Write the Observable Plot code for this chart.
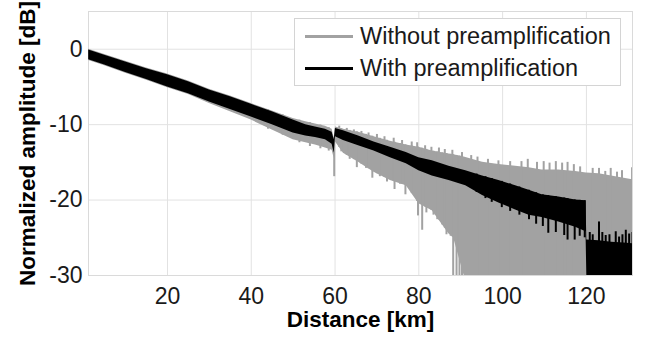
<!DOCTYPE html>
<html><head><meta charset="utf-8">
<script src="https://cdn.jsdelivr.net/npm/d3@7"></script>
<script src="https://cdn.jsdelivr.net/npm/@observablehq/plot@0.6"></script>
<style>
body{margin:0;background:#fff;font-family:"Liberation Sans",Arial,sans-serif;}
#wrap{position:relative;width:646px;height:337px;}
#legend{position:absolute;left:294px;top:18px;width:327px;height:68px;box-sizing:border-box;border:1px solid #d4d4d4;background:#fff;}
.row{position:absolute;left:0;height:30px;display:flex;align-items:center;}
.sw{width:48px;height:3px;margin-left:10px;margin-right:7px;}
.lbl{font-size:23.5px;color:#1a1a1a;white-space:nowrap;}
</style></head>
<body><div id="wrap"></div>
<script>
// Axis ticks
const xTicks = [20, 40, 60, 80, 100, 120];
const yTicks = [0, -10, -20, -30];
const seriesNames = ["Without preamplification", "With preamplification"];

// Without preamplification: envelope of the noisy trace (km, upper dB, lower dB)
const gKm = [1.2, 5, 10, 15, 20, 25, 30, 35, 40, 45, 50, 53, 55.3, 57.7, 59.3, 59.8, 60.1, 62, 65.6, 69.3, 73.2, 77, 80, 83.2, 87.2, 88.3, 90.8, 95.2, 99.1, 103.1, 106.3, 109.4, 113.4, 117.4, 120, 123, 126, 129, 131];
const gHi = [0.0, -0.7, -1.6, -2.5, -3.3, -4.2, -5.3, -6.2, -7.2, -8.2, -9.2, -9.6, -9.9, -10.2, -10.6, -11.8, -10.3, -10.6, -11.0, -11.6, -12.2, -12.7, -13.0, -13.5, -13.9, -14.0, -14.3, -15.0, -15.3, -15.5, -15.7, -16.0, -16.0, -16.2, -16.4, -16.5, -16.8, -17.1, -17.3];
const gLo = [-1.5, -2.2, -3.2, -4.1, -5.1, -6.0, -7.2, -8.3, -9.4, -10.7, -12.0, -12.4, -12.7, -13.1, -13.4, -14.5, -12.3, -13.8, -15.0, -16.3, -17.4, -18.1, -20.5, -21.4, -24.5, -25.0, -30, -30, -30, -30, -30, -30, -30, -30, -30, -30, -30, -30, -30];

// With preamplification: envelope of the trace
const bKm = [1.2, 5, 10, 15, 20, 25, 30, 35, 40, 45, 50, 53, 55.3, 57.7, 59.3, 59.8, 60.1, 62, 65.6, 69.3, 73.2, 77, 80, 83.2, 87.2, 91.2, 95.2, 99.1, 103.1, 106.3, 109.4, 113.4, 117.4, 119.9, 120.1, 123, 126, 129, 131];
const bHi = [-0.1, -0.8, -1.7, -2.6, -3.4, -4.3, -5.4, -6.3, -7.3, -8.3, -9.4, -10.0, -10.3, -10.6, -11.0, -12.0, -10.5, -10.8, -11.5, -12.3, -13.0, -13.7, -14.4, -14.8, -15.5, -16.1, -16.8, -17.4, -18.1, -18.7, -19.3, -19.6, -20.0, -20.1, -25.3, -25.4, -25.6, -25.7, -25.8];
const bLo = [-1.4, -2.1, -3.1, -4.0, -5.0, -5.9, -7.0, -8.0, -9.0, -10.0, -11.1, -11.5, -11.7, -12.0, -12.6, -13.8, -11.6, -12.1, -12.8, -13.5, -14.4, -15.2, -16.1, -16.8, -17.4, -18.1, -19.4, -20.4, -21.3, -22.0, -22.3, -22.9, -23.6, -24.2, -30, -30, -30, -30, -30];

// Noise spikes (km, tip dB)
const gUpKm = [61, 62.8, 64.5, 66.3, 68, 70, 71.8, 74, 76, 78.3, 79.6, 81.5, 83, 84.8, 86.2, 88, 90.3, 92.5, 94, 96.5, 99, 101.8, 104.5, 106, 108.2, 109.8, 111.2, 112.7, 114.2, 115.5, 117, 118.5, 121.5, 123, 124.5, 125.8, 127.3, 128.5, 130.9];
const gUpDb = [-10.2, -10.5, -10.7, -10.9, -11.1, -11.3, -11.6, -11.8, -12.1, -12.3, -12.4, -12.8, -13.0, -13.1, -13.3, -13.4, -13.7, -14.1, -14.3, -14.6, -14.8, -14.9, -14.9, -14.6, -15.0, -14.9, -15.1, -14.9, -15.1, -15.0, -15.3, -15.6, -15.8, -15.8, -16.2, -15.8, -16.3, -16.1, -15.7];
const gDnKm = [44, 47.5, 51.5, 54, 56.5, 58.5, 59.8, 61.5, 63.5, 65.2, 67.4, 68.9, 70.7, 72.4, 74.2, 75.5, 76.8, 78.3, 79.8, 80.8, 81.8, 83.5, 84.4, 85.6, 86.6, 87.6, 88.2, 89.0, 89.7, 90.3];
const gDnDb = [-10.6, -11.4, -12.4, -12.9, -13.2, -13.5, -16.9, -13.6, -14.6, -15.7, -15.8, -17.1, -16.9, -17.6, -18.6, -17.9, -19.3, -18.8, -22.1, -24.0, -21.7, -22.0, -22.6, -23.3, -24.6, -24.8, -30, -30, -30, -30];
const bDnKm = [93.8, 95.9, 97.4, 99.8, 101.8, 104, 106.3, 108, 109.6, 110.9, 112.7, 114.7, 115.5, 117.2, 118.4, 119.6];
const bDnDb = [-19.0, -19.8, -20.3, -21.0, -21.5, -22.0, -22.6, -23.2, -23.5, -24.4, -24.3, -24.7, -25.3, -25.3, -24.8, -25.0];
const bUpKm = [120.8, 121.5, 123, 123.8, 124.6, 125.5, 127, 127.8, 128.6, 129.4, 130.2, 131];
const bUpDb = [-24.3, -24.6, -22.9, -24.3, -24.7, -24.6, -24.2, -24.9, -24.6, -24.0, -24.5, -24.3];

const GRAY = "#a2a2a2", BLACK = "#000";

const gray = gKm.map((k, i) => ({km: k, hi: gHi[i], lo: gLo[i]}));
const black = bKm.map((k, i) => ({km: k, hi: bHi[i], lo: bLo[i]}));
const gLoAt = d3.scaleLinear(gKm, gLo), gHiAt = d3.scaleLinear(gKm, gHi);
const bLoAt = d3.scaleLinear(bKm, bLo), bHiAt = d3.scaleLinear(bKm, bHi);
const gUp = gUpKm.map((k, i) => ({km: k, tip: gUpDb[i], base: gLoAt(k)}));
const gDn = gDnKm.map((k, i) => ({km: k, tip: gDnDb[i], base: gHiAt(k)}));
const bDn = bDnKm.map((k, i) => ({km: k, tip: bDnDb[i], base: bHiAt(k)}));
const bUp = bUpKm.map((k, i) => ({km: k, tip: bUpDb[i], base: bLoAt(k)}));

const chart = Plot.plot({
  width: 646, height: 337,
  marginLeft: 88, marginRight: 14, marginTop: 11, marginBottom: 62,
  x: {domain: [1.15, 131]},
  y: {domain: [-30, 5]},
  style: {fontFamily: "'Liberation Sans', Arial, sans-serif", background: "#fff", color: "#1a1a1a"},
  marks: [
    Plot.gridX(xTicks, {stroke: "#e2e2e2", strokeOpacity: 1}),
    Plot.gridY(yTicks, {stroke: "#e2e2e2", strokeOpacity: 1}),
    Plot.frame({stroke: "#dadada"}),
    Plot.areaY(gray, {x: "km", y1: "lo", y2: "hi", fill: GRAY, clip: true}),
    Plot.ruleX(gUp, {x: "km", y1: "tip", y2: "base", stroke: GRAY, strokeWidth: 2, clip: true}),
    Plot.ruleX(gDn, {x: "km", y1: "tip", y2: "base", stroke: GRAY, strokeWidth: 2, clip: true}),
    Plot.areaY(black, {x: "km", y1: "lo", y2: "hi", fill: BLACK, clip: true}),
    Plot.ruleX(bDn, {x: "km", y1: "tip", y2: "base", stroke: BLACK, strokeWidth: 2, clip: true}),
    Plot.ruleX(bUp, {x: "km", y1: "tip", y2: "base", stroke: BLACK, strokeWidth: 2, clip: true}),
    Plot.axisX(xTicks, {tickSize: 0, tickPadding: 12, fontSize: 23, label: null, tickFormat: d => String(d)}),
    Plot.axisY(yTicks, {tickSize: 0, tickPadding: 6, fontSize: 23, label: null, tickFormat: d => String(d)}),
    Plot.text(["Distance [km]"], {text: d => d, frameAnchor: "bottom", lineAnchor: "middle", textAnchor: "middle", dy: 44, fontSize: 22.5, fontWeight: "bold", fill: "#000"}),
    Plot.text(["Normalized amplitude [dB]"], {text: d => d, frameAnchor: "left", lineAnchor: "middle", textAnchor: "middle", dx: -61, rotate: -90, fontSize: 22.5, fontWeight: "bold", fill: "#000"})
  ]
});

const wrap = document.getElementById("wrap");
wrap.appendChild(chart);
const legend = document.createElement("div");
legend.id = "legend";
const colors = [GRAY, BLACK];
const tops = [2, 34];
seriesNames.forEach((name, i) => {
  const row = document.createElement("div");
  row.className = "row";
  row.style.top = tops[i] + "px";
  const sw = document.createElement("div");
  sw.className = "sw";
  sw.style.background = colors[i];
  const lbl = document.createElement("span");
  lbl.className = "lbl";
  lbl.textContent = name;
  row.appendChild(sw);
  row.appendChild(lbl);
  legend.appendChild(row);
});
wrap.appendChild(legend);
</script>
</body></html>
